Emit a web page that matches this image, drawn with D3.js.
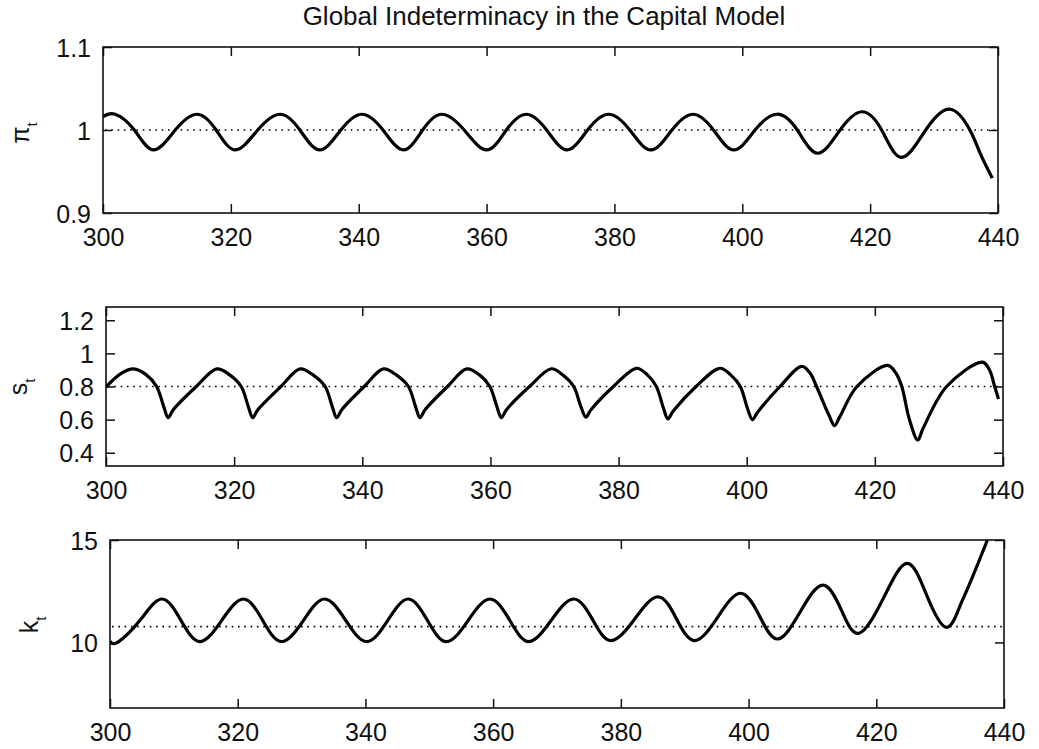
<!DOCTYPE html>
<html>
<head>
<meta charset="utf-8">
<script src="https://cdn.jsdelivr.net/npm/d3@7"></script>
<style>
body { margin: 0; background: #fff; }
svg { display: block; background: #fff; }
</style>
</head>
<body>
<svg id="chart" width="1039" height="749"></svg>
<script>
var title = "Global Indeterminacy in the Capital Model";
var xTicks = [300, 320, 340, 360, 380, 400, 420, 440];

// inflation pi_t
var piTime = [300, 301.9, 304.9, 307.9, 311.3, 314.7, 317.7, 320.7, 324.2, 327.7, 330.8, 333.9, 337.2, 340.5,
    343.8, 347.0, 350.0, 353.0, 356.5, 360.0, 363.1, 366.2, 369.4, 372.6, 375.8, 379.1, 382.4, 385.7, 389.0,
    392.3, 395.5, 398.7, 402.0, 405.4, 408.6, 411.8, 415.3, 418.7, 421.8, 424.9, 428.7, 432.5, 435.6, 437.2, 439.1];
var piValue = [1.016, 1.019, 1.000, 0.976, 1.000, 1.019, 1.000, 0.976, 1.000, 1.019, 1.000, 0.976, 1.000, 1.019,
    1.000, 0.976, 1.000, 1.019, 1.000, 0.976, 1.000, 1.019, 1.000, 0.976, 1.000, 1.019, 1.000, 0.976, 1.000,
    1.019, 1.000, 0.976, 1.000, 1.019, 1.000, 0.972, 1.000, 1.022, 1.000, 0.967, 1.000, 1.025, 1.000, 0.972, 0.942];
var piTicks = [0.9, 1, 1.1];

// s_t
var sTime = [300, 302.2, 304.3, 306.3, 307.9, 309.0, 309.7, 310.5, 314.1,
    317.3, 319.3, 321.1, 322.2, 322.9, 323.7, 327.3,
    330.3, 332.3, 334.2, 335.3, 336.0, 336.8, 340.3,
    343.3, 345.3, 347.2, 348.3, 349.0, 349.8, 353.3,
    356.3, 358.3, 359.9, 361.0, 361.7, 362.5, 366.1,
    369.5, 371.3, 373.0, 374.1, 374.9, 375.7, 379.2,
    382.8, 384.5, 385.9, 387.0, 387.7, 388.5, 392.1,
    395.8, 397.5, 399.0, 400.1, 400.9, 401.7, 405.2,
    408.6, 409.9, 410.9, 412.8, 413.7, 414.5, 417.2,
    422.0, 423.3, 424.2, 425.4, 426.7, 427.5, 431.2,
    436.8, 437.9, 438.7, 439.3];
var sValue = [0.796, 0.875, 0.906, 0.87, 0.80, 0.68, 0.612, 0.66, 0.80,
    0.906, 0.87, 0.80, 0.68, 0.612, 0.66, 0.80,
    0.906, 0.87, 0.80, 0.68, 0.612, 0.66, 0.80,
    0.906, 0.87, 0.80, 0.68, 0.612, 0.66, 0.80,
    0.906, 0.87, 0.80, 0.68, 0.612, 0.66, 0.80,
    0.907, 0.87, 0.80, 0.68, 0.615, 0.66, 0.80,
    0.910, 0.87, 0.80, 0.67, 0.604, 0.65, 0.80,
    0.910, 0.87, 0.80, 0.67, 0.600, 0.645, 0.80,
    0.921, 0.88, 0.80, 0.63, 0.564, 0.615, 0.80,
    0.927, 0.88, 0.80, 0.60, 0.477, 0.545, 0.80,
    0.947, 0.90, 0.80, 0.725];
var sTicks = [0.4, 0.6, 0.8, 1, 1.2];

// capital k_t
var kTime = [300, 301.3, 304.7, 308.1, 311.1, 314.1, 317.5, 320.9, 323.9, 326.9, 330.3, 333.6, 336.9, 340.2,
    343.5, 346.7, 349.7, 352.7, 356.1, 359.5, 362.6, 365.6, 369.1, 372.6, 375.6, 378.5, 382.2, 385.8, 388.7,
    391.6, 395.2, 398.7, 401.7, 404.6, 408.1, 411.6, 414.5, 417.3, 421.1, 424.8, 427.9, 430.9, 433.0, 434.6,
    437.4, 438.5];
var kValue = [10.05, 10.03, 11.08, 12.12, 11.08, 10.04, 11.08, 12.12, 11.08, 10.04, 11.08, 12.12, 11.08, 10.04,
    11.08, 12.12, 11.08, 10.04, 11.08, 12.12, 11.08, 10.04, 11.08, 12.12, 11.10, 10.09, 11.16, 12.23, 11.16,
    10.09, 11.25, 12.40, 11.30, 10.17, 11.50, 12.80, 11.60, 10.45, 12.15, 13.86, 12.30, 10.74, 11.70, 12.85,
    15.0, 15.9];
var kTicks = [10, 15];

var steadyState = [1, 0.8, 10.77];

var svg = d3.select("#chart");
var fontFamily = "Arial, 'Liberation Sans', sans-serif";

svg.append("rect").attr("width", 1039).attr("height", 749).attr("fill", "#fff");

svg.append("text")
    .attr("x", 544)
    .attr("y", 25)
    .attr("text-anchor", "middle")
    .attr("font-family", fontFamily)
    .attr("font-size", 26)
    .attr("fill", "#111")
    .text(title);

var panels = [
    {name: "pi", time: piTime, value: piValue, ticks: piTicks, steady: steadyState[0], domain: [0.9, 1.1],
        curve: d3.curveNatural,
        box: {left: 103, right: 998, top: 47, bottom: 213}, label: "\u03c0", labelX: 29, labelY: 133},
    {name: "s", time: sTime, value: sValue, ticks: sTicks, steady: steadyState[1], domain: [0.32, 1.28],
        curve: d3.curveCatmullRom.alpha(0.5),
        box: {left: 106, right: 1003, top: 307, bottom: 466}, label: "s", labelX: 27, labelY: 387},
    {name: "k", time: kTime, value: kValue, ticks: kTicks, steady: steadyState[2], domain: [6.8, 15],
        curve: d3.curveNatural,
        box: {left: 110, right: 1004, top: 540, bottom: 708}, label: "k", labelX: 38, labelY: 625}
];

function drawPanel(p){
    var b = p.box,
        w = b.right - b.left,
        h = b.bottom - b.top;

    var x = d3.scaleLinear().domain([300, 440]).range([0, w]);
    var y = d3.scaleLinear().domain(p.domain).range([h, 0]);

    var g = svg.append("g").attr("transform", "translate(" + b.left + "," + b.top + ")");

    g.append("clipPath").attr("id", "clip-" + p.name)
      .append("rect").attr("width", w).attr("height", h);

    // steady state, dotted
    g.append("line")
        .attr("x1", 2).attr("x2", w - 2)
        .attr("y1", y(p.steady)).attr("y2", y(p.steady))
        .attr("stroke", "#000")
        .attr("stroke-width", 1.6)
        .attr("stroke-dasharray", "1.6,4.7");

    var pts = p.time.map(function(t, i){ return [t, p.value[i]]; });
    var line = d3.line()
        .x(function(d){ return x(d[0]); })
        .y(function(d){ return y(d[1]); })
        .curve(p.curve);

    g.append("path")
        .datum(pts)
        .attr("clip-path", "url(#clip-" + p.name + ")")
        .attr("fill", "none")
        .attr("stroke", "#000")
        .attr("stroke-width", 3.2)
        .attr("stroke-linejoin", "round")
        .attr("d", line);

    // axes, ticks point inward on all four sides
    var fmt = function(d){ return String(d); };
    var axB = g.append("g").attr("transform", "translate(0," + h + ")")
        .call(d3.axisBottom(x).tickValues(xTicks).tickSizeInner(-9).tickSizeOuter(0).tickPadding(15).tickFormat(fmt));
    var axT = g.append("g")
        .call(d3.axisTop(x).tickValues(xTicks).tickSizeInner(-9).tickSizeOuter(0).tickFormat(""));
    var axL = g.append("g")
        .call(d3.axisLeft(y).tickValues(p.ticks).tickSizeInner(-9).tickSizeOuter(0).tickPadding(12).tickFormat(fmt));
    var axR = g.append("g").attr("transform", "translate(" + w + ",0)")
        .call(d3.axisRight(y).tickValues(p.ticks).tickSizeInner(-9).tickSizeOuter(0).tickFormat(""));

    [axB, axT, axL, axR].forEach(function(a){
        a.select(".domain").remove();
        a.selectAll(".tick line").attr("stroke", "#111").attr("stroke-width", 1.5);
        a.selectAll("text")
            .attr("font-family", fontFamily)
            .attr("font-size", 25)
            .attr("fill", "#111");
    });
    axL.selectAll("text").attr("dy", "0.36em");

    g.append("rect")
        .attr("width", w).attr("height", h)
        .attr("fill", "none")
        .attr("stroke", "#111")
        .attr("stroke-width", 1.6);

    var lab = svg.append("text")
        .attr("transform", "translate(" + p.labelX + "," + p.labelY + ") rotate(-90)")
        .attr("text-anchor", "middle")
        .attr("font-family", fontFamily)
        .attr("font-size", 25)
        .attr("fill", "#111");
    lab.append("tspan").text(p.label);
    lab.append("tspan").attr("font-size", 15).attr("dy", 8).text("t");
}

panels.forEach(drawPanel);
</script>
</body>
</html>
